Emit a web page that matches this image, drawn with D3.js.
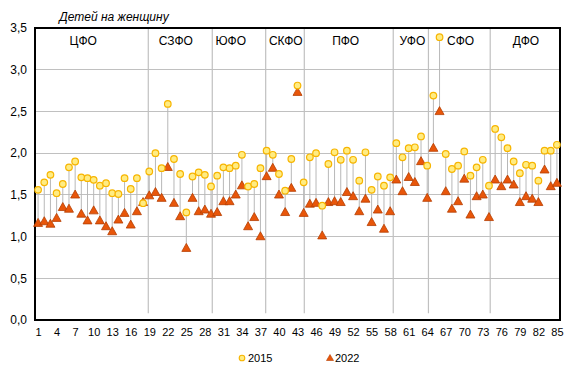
<!DOCTYPE html>
<html><head><meta charset="utf-8">
<script src="https://cdn.jsdelivr.net/npm/d3@7/dist/d3.min.js"></script>
<style>
body{margin:0;background:#fff;}
text{font-family:"Liberation Sans",Arial,sans-serif;fill:#000;}
</style></head>
<body><svg id="c" width="576" height="376"></svg>
<script>
const regions = [1,2,3,4,5,6,7,8,9,10,11,12,13,14,15,16,17,18,19,20,21,22,23,24,25,26,27,28,29,30,31,32,33,34,35,36,37,38,39,40,41,42,43,44,45,46,47,48,49,50,51,52,53,54,55,56,57,58,59,60,61,62,63,64,65,66,67,68,69,70,71,72,73,74,75,76,77,78,79,80,81,82,83,84,85];
const v2015 = [1.56,1.65,1.74,1.52,1.63,1.83,1.90,1.71,1.70,1.68,1.61,1.64,1.52,1.51,1.70,1.57,1.70,1.40,1.78,2.00,
  1.82,2.59,1.93,1.75,1.29,1.72,1.77,1.74,1.60,1.73,1.83,1.82,1.85,1.98,1.60,1.63,1.82,2.03,1.98,1.75,
  1.55,1.93,2.81,1.65,1.95,2.00,1.37,1.87,2.01,1.92,2.03,1.92,1.67,2.01,1.56,1.72,1.61,1.71,2.12,1.95,
  2.06,2.07,2.20,1.85,2.69,3.39,1.99,1.81,1.85,2.02,1.73,1.83,1.92,1.61,2.29,2.19,2.06,1.90,1.76,1.86,
  1.85,1.67,2.03,2.03,2.10];
const v2022 = [1.17,1.19,1.16,1.23,1.36,1.34,1.51,1.28,1.20,1.32,1.20,1.13,1.07,1.21,1.29,1.15,1.31,1.42,1.50,1.54,
  1.47,1.84,1.41,1.25,0.87,1.47,1.31,1.33,1.28,1.30,1.43,1.43,1.51,1.62,1.13,1.24,1.01,1.73,1.83,1.51,
  1.30,1.59,2.74,1.29,1.40,1.41,1.02,1.42,1.43,1.42,1.54,1.49,1.31,1.46,1.18,1.33,1.10,1.31,1.69,1.55,
  1.72,1.66,1.91,1.47,2.07,2.51,1.55,1.34,1.43,1.70,1.27,1.49,1.51,1.24,1.69,1.61,1.69,1.63,1.42,1.49,
  1.46,1.42,1.81,1.61,1.65];
const districts = ["ЦФО","СЗФО","ЮФО","СКФО","ПФО","УФО","СФО","ДФО"];
const districtLabelAt = [8.3,23.3,32.2,41.1,50.8,61.6,69.4,80.0];
const dividerAt = [18.84,29.2,37.85,44.1,58.5,64.2,74.2];
const yTicks = [0,0.5,1,1.5,2,2.5,3,3.5];
const xTicks = [1,4,7,10,13,16,19,22,25,28,31,34,37,40,43,46,49,52,55,58,61,64,67,70,73,76,79,82,85];
const seriesNames = ["2015","2022"];
const yTitle = "Детей на женщину";

const svg = d3.select("#c");
const L=35, R=560, T=28, B=320;
const x = d3.scaleLinear().domain([0.5,85.5]).range([L,R]);
const y = d3.scaleLinear().domain([0,3.5]).range([B,T]);
const fmt = d => d.toFixed(1).replace(".",",");
const grid="#c0c0c0";
const cFill="#ffec82", cStroke="#f7b500", tFill="#e8560a", tStroke="#b53d00";
const tri = (w,h) => `M0,${-h/2}L${w/2},${h/2}L${-w/2},${h/2}Z`;

// gridlines
svg.append("g").selectAll("line").data(yTicks.filter(d=>d>0 && d<3.5)).join("line")
  .attr("x1",L).attr("x2",R).attr("y1",d=>y(d)).attr("y2",d=>y(d))
  .attr("stroke",grid).attr("stroke-width",1).attr("shape-rendering","crispEdges");

// dividers
svg.append("g").selectAll("line").data(dividerAt).join("line")
  .attr("x1",d=>x(d)).attr("x2",d=>x(d)).attr("y1",y(3.5)).attr("y2",y(0.08))
  .attr("stroke",grid).attr("stroke-width",1.2);

// frame
svg.append("rect").attr("x",L).attr("y",T).attr("width",R-L).attr("height",B-T)
  .attr("fill","none").attr("stroke","#000").attr("stroke-width",1.2).attr("shape-rendering","crispEdges");

// y axis
const ya = svg.append("g").attr("transform",`translate(${L},0)`)
  .call(d3.axisLeft(y).tickValues(yTicks).tickFormat(fmt).tickSize(0).tickPadding(8));
ya.select(".domain").remove();
ya.selectAll("text").attr("font-size",12).attr("font-family","Liberation Sans, Arial, sans-serif");

// x axis
const xa = svg.append("g").attr("transform",`translate(0,${B})`)
  .call(d3.axisBottom(x).tickValues(xTicks).tickFormat(d3.format("d")).tickSize(0).tickPadding(8));
xa.select(".domain").remove();
xa.selectAll("text").attr("font-size",11).attr("font-family","Liberation Sans, Arial, sans-serif");

// district labels
svg.append("g").selectAll("text").data(districts).join("text")
  .attr("x",(d,i)=>x(districtLabelAt[i])).attr("y",45).attr("text-anchor","middle")
  .attr("font-size",12).text(d=>d);

// title
svg.append("text").attr("x",114).attr("y",21).attr("text-anchor","middle")
  .attr("font-size",12).attr("font-style","italic").text(yTitle);

const data = regions.map((r,i)=>({r, a:v2015[i], b:v2022[i]}));

// stems
svg.append("g").selectAll("line").data(data).join("line")
  .attr("x1",d=>x(d.r)).attr("x2",d=>x(d.r)).attr("y1",d=>y(d.a)).attr("y2",d=>y(d.b))
  .attr("stroke","#b8b8b8").attr("stroke-width",1);

// triangles 2022
svg.append("g").selectAll("path").data(data).join("path")
  .attr("transform",d=>`translate(${x(d.r)},${y(d.b)})`)
  .attr("d",tri(9,8)).attr("fill",tFill).attr("stroke",tStroke).attr("stroke-width",0.8);

// circles 2015
svg.append("g").selectAll("circle").data(data).join("circle")
  .attr("cx",d=>x(d.r)).attr("cy",d=>y(d.a)).attr("r",3.3)
  .attr("fill",cFill).attr("stroke",cStroke).attr("stroke-width",1.2);

// legend
const lg = svg.append("g");
lg.append("circle").attr("cx",242).attr("cy",358).attr("r",2.8).attr("fill",cFill).attr("stroke",cStroke).attr("stroke-width",1.1);
lg.append("text").attr("x",248).attr("y",362).attr("font-size",11).text(seriesNames[0]);
lg.append("path").attr("transform","translate(330,357.5)").attr("d",tri(7,6)).attr("fill",tFill).attr("stroke",tStroke).attr("stroke-width",0.6);
lg.append("text").attr("x",335).attr("y",362).attr("font-size",11).text(seriesNames[1]);
</script></body></html>
